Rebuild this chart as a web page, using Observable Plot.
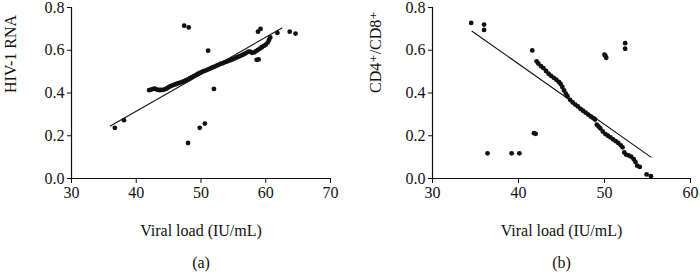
<!DOCTYPE html>
<html>
<head>
<meta charset="utf-8">
<script src="https://cdn.jsdelivr.net/npm/d3@7"></script>
<script src="https://cdn.jsdelivr.net/npm/@observablehq/plot@0.6"></script>
<style>
  html, body { margin: 0; padding: 0; background: #fff; }
  #wrap { display: flex; width: 700px; height: 274px; }
  svg { display: block; }
</style>
</head>
<body>
<div id="wrap"></div>
<script>
// ---------- Panel (a): HIV-1 RNA vs viral load ----------
const aX = [36.7, 38.1, 47.4, 48.1, 48.0, 49.8, 50.6, 51.1, 52.0, 58.6, 58.9, 58.8, 59.2, 61.8, 63.7, 64.6,
  42.0, 42.3, 42.6, 42.9, 43.2, 43.5, 43.8, 44.1, 44.4, 44.7, 45.0, 45.3, 45.6, 45.9, 46.2, 46.5, 46.8, 47.1,
  47.4, 47.7, 48.0, 48.3, 48.6, 48.9, 49.2, 49.5, 49.8, 50.1, 50.4, 50.7, 51.0, 51.3, 51.6, 51.9, 52.2, 52.5,
  52.8, 53.1, 53.4, 53.7, 54.0, 54.3, 54.6, 54.9, 55.2, 55.5, 55.8, 56.1, 56.4, 56.7, 57.0, 57.3, 57.6, 57.9,
  58.2, 58.5, 58.8, 59.1, 59.4, 59.7, 60.0, 60.3, 60.5, 60.7];
const aY = [0.237, 0.273, 0.715, 0.707, 0.166, 0.237, 0.257, 0.598, 0.419, 0.555, 0.557, 0.687, 0.700, 0.681, 0.687, 0.678,
  0.413, 0.416, 0.419, 0.420, 0.416, 0.414, 0.414, 0.415, 0.417, 0.421, 0.427, 0.432, 0.436, 0.439, 0.442, 0.446, 0.449, 0.452,
  0.456, 0.460, 0.464, 0.469, 0.474, 0.479, 0.484, 0.489, 0.494, 0.498, 0.502, 0.505, 0.509, 0.513, 0.517, 0.521, 0.525, 0.529,
  0.533, 0.537, 0.540, 0.544, 0.547, 0.551, 0.554, 0.558, 0.562, 0.566, 0.570, 0.574, 0.578, 0.583, 0.588, 0.594, 0.593, 0.588,
  0.590, 0.596, 0.602, 0.608, 0.614, 0.620, 0.626, 0.636, 0.648, 0.660];
const aFitX = [36.0, 62.5];
const aFitY = [0.246, 0.704];
const aXTicks = [30, 40, 50, 60, 70];

// ---------- Panel (b): CD4+/CD8+ vs viral load ----------
const bX = [34.5, 36.0, 36.0, 36.4, 39.2, 40.1, 41.6, 41.8, 42.0, 50.0, 50.1, 50.2, 52.4, 52.4, 54.9, 55.4,
  42.1, 42.3, 42.6, 42.9, 43.2, 43.5, 43.8, 44.1, 44.4, 44.7, 44.9, 45.1, 45.3, 45.5, 45.7, 46.0, 46.3, 46.6,
  46.9, 47.2, 47.5, 47.8, 48.1, 48.4, 48.7, 48.9, 49.1, 49.3, 49.5, 49.8, 50.1, 50.4, 50.7, 51.0, 51.3, 51.6,
  51.9, 52.1, 52.3, 52.5, 52.8, 53.1, 53.4, 53.6, 53.8, 54.1];
const bY = [0.728, 0.720, 0.695, 0.118, 0.118, 0.118, 0.599, 0.212, 0.209, 0.579, 0.574, 0.565, 0.633, 0.607, 0.019, 0.011,
  0.548, 0.538, 0.526, 0.516, 0.503, 0.490, 0.480, 0.471, 0.462, 0.452, 0.442, 0.428, 0.412, 0.397, 0.385, 0.368, 0.356, 0.346,
  0.337, 0.326, 0.317, 0.308, 0.299, 0.290, 0.282, 0.276, 0.252, 0.244, 0.235, 0.220, 0.208, 0.200, 0.192, 0.183, 0.175, 0.166,
  0.155, 0.146, 0.122, 0.112, 0.108, 0.102, 0.090, 0.077, 0.060, 0.054];
const bFitX = [34.6, 55.4];
const bFitY = [0.689, 0.100];
const bXTicks = [30, 40, 50, 60];

const yTicks = [0, 0.2, 0.4, 0.6, 0.8];
const xLabel = "Viral load (IU/mL)";
const aYLabel = "HIV-1 RNA";
const bYLabel = "CD4\u207A/CD8\u207A";

const FONT = "'Liberation Serif', 'DejaVu Serif', serif";
const FS = 16;

function panel({xs, ys, fitX, fitY, xDomain, xTicks, yLabel, tag, marginLeft, marginRight, yLabelDx}) {
  const pts = xs.map((x, i) => ({x, y: ys[i]}));
  const fit = fitX.map((x, i) => ({x, y: fitY[i]}));
  return Plot.plot({
    width: 350,
    height: 274,
    marginLeft,
    marginRight,
    marginTop: 7,
    marginBottom: 96,
    style: {fontFamily: FONT, fontSize: FS + "px", color: "#111", background: "#fff", overflow: "visible"},
    x: {domain: xDomain},
    y: {domain: [0, 0.8]},
    marks: [
      Plot.ruleY([0], {stroke: "#111", strokeWidth: 1.2}),
      Plot.ruleX([xDomain[0]], {stroke: "#111", strokeWidth: 1.2}),
      Plot.axisX({ticks: xTicks, tickSize: 5, tickPadding: 3, label: null, tickFormat: d3.format("d"), fontSize: FS}),
      Plot.axisY({ticks: yTicks, tickSize: 4, tickPadding: 3, label: null, tickFormat: d3.format(".1f"), fontSize: FS}),
      Plot.line(fit, {x: "x", y: "y", stroke: "#111", strokeWidth: 1.1}),
      Plot.dot(pts, {x: "x", y: "y", r: 2.4, fill: "#111", stroke: "none"}),
      Plot.text([xLabel], {frameAnchor: "bottom", dy: 57, text: d => d, fontSize: FS}),
      Plot.text([tag], {frameAnchor: "bottom", dy: 89, text: d => d, fontSize: FS}),
      Plot.text([yLabel], {frameAnchor: "left", dx: yLabelDx, rotate: -90, text: d => d, fontSize: FS})
    ]
  });
}

const wrap = document.getElementById("wrap");
wrap.appendChild(panel({xs: aX, ys: aY, fitX: aFitX, fitY: aFitY, xDomain: [30, 70], xTicks: aXTicks,
  yLabel: aYLabel, tag: "(a)", marginLeft: 71, marginRight: 20, yLabelDx: -61}));
wrap.appendChild(panel({xs: bX, ys: bY, fitX: bFitX, fitY: bFitY, xDomain: [30, 60], xTicks: bXTicks,
  yLabel: bYLabel, tag: "(b)", marginLeft: 82, marginRight: 10, yLabelDx: -57}));
</script>
</body>
</html>
